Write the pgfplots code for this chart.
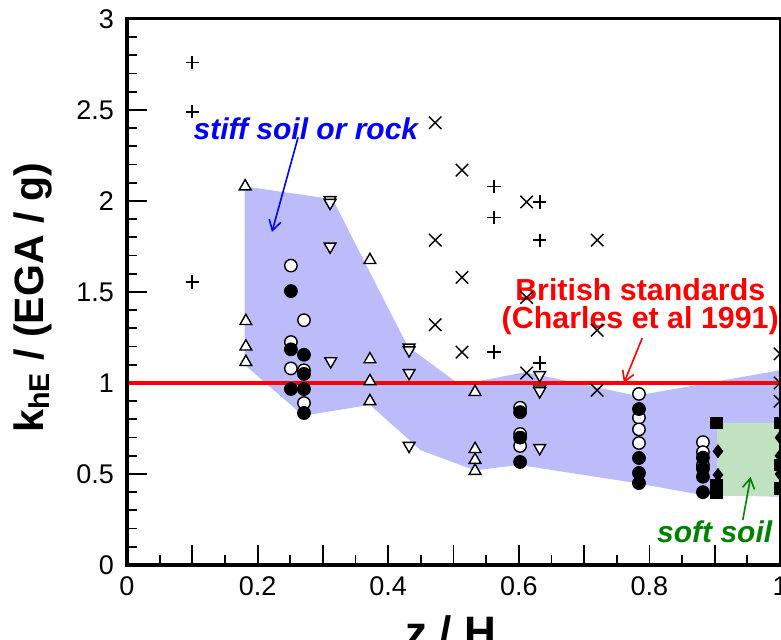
\documentclass[border=0pt]{standalone}
\usepackage{fontspec}
\setmainfont{Liberation Sans}
\usepackage{pgfplots}
\pgfplotsset{compat=1.18}
\usetikzlibrary{arrows.meta}
\definecolor{fillblue}{RGB}{188,188,250}
\definecolor{fillgreen}{RGB}{192,226,192}
\definecolor{txtgreen}{RGB}{0,128,0}
\begin{document}
\begin{tikzpicture}
\begin{axis}[name=ax, scale only axis, width=326.5pt, height=273pt,
  xmin=0, xmax=1, ymin=0, ymax=3,
  clip=false,
  axis line style={draw=none},
  xtick={0,0.1,0.2,0.3,0.4,0.5,0.6,0.7,0.8,0.9,1},
  xticklabels={0,,0.2,,0.4,,0.6,,0.8,,1},
  minor x tick num=1,
  ytick={0,0.5,1,1.5,2,2.5,3},
  yticklabels={0,0.5,1,1.5,2,2.5,3},
  minor y tick num=4,
  tick pos=left, tick align=inside,
  major tick length=10pt, minor tick length=5pt,
  tick style={black, line width=0.9pt},
  ticklabel style={font=\fontsize{13.5}{16}\selectfont},
  yticklabel style={xshift=-3pt},
  xticklabel style={yshift=-2.5pt},
  xlabel={z / H},
  ylabel={k\textsubscript{hE} / (EGA / g)},
  xlabel style={at={(axis description cs:0.496,-0.0916)}, anchor=north, inner sep=0pt, font=\fontsize{22}{26}\selectfont\bfseries},
  ylabel style={at={(axis description cs:-0.144,0.49)}, anchor=center, inner sep=0pt, font=\fontsize{20.5}{24}\selectfont\bfseries},
]
% stiff soil / rock band
\addplot[fill=fillblue, draw=none] coordinates {
 (0.18,2.08) (0.315,2.01) (0.43,1.20) (0.51,0.99) (0.61,1.06) (0.78,0.93) (1.0,1.07)
 (1.0,0.375) (0.88,0.385) (0.78,0.45) (0.60,0.55) (0.533,0.52) (0.45,0.63) (0.372,0.88) (0.27,0.82) (0.18,1.10)} -- cycle;
% soft soil band
\addplot[fill=fillgreen, draw=none] coordinates {(0.904,0.38) (1.0,0.38) (1.0,0.78) (0.904,0.78)} -- cycle;
% British standards
\addplot[red, line width=1.6pt] coordinates {(0,1) (1,1)};
% plus
\addplot[only marks, mark=+, mark size=3.3pt, line width=0.8pt, black] coordinates {
 (0.1,2.76) (0.1,2.49) (0.1,1.555) (0.562,2.08) (0.562,1.91) (0.632,1.995) (0.632,1.785) (0.562,1.17) (0.632,1.11)};
% cross
\addplot[only marks, mark=x, mark size=4.4pt, line width=0.7pt, black] coordinates {
 (0.472,2.43) (0.513,2.17) (0.612,1.995) (0.472,1.785) (0.513,1.58) (0.612,1.47) (0.472,1.32) (0.513,1.17) (0.612,1.055)
 (0.72,1.785) (0.72,1.29) (0.72,0.96) (1,1.16) (1,1.0) (1,0.9)};
% triangles up
\addplot[only marks, mark=triangle*, mark size=3.4pt, line width=0.7pt, black, mark options={fill=white}] coordinates {
 (0.181,2.08) (0.182,1.34) (0.182,1.20) (0.182,1.115) (0.372,1.675) (0.372,1.13) (0.372,1.01) (0.372,0.90)
 (0.533,0.95) (0.533,0.637) (0.533,0.577) (0.533,0.517)};
% triangles down
\addplot[only marks, mark=triangle*, mark size=3.4pt, line width=0.7pt, black, mark options={fill=white, rotate=180}] coordinates {
 (0.311,2.005) (0.311,1.99) (0.311,1.75) (0.312,1.12) (0.432,1.195) (0.432,1.18) (0.432,1.055) (0.432,0.655)
 (0.632,1.044) (0.632,0.965) (0.632,0.955) (0.632,0.643)};
% open circles
\addplot[only marks, mark=*, mark size=3.1pt, line width=0.7pt, black, mark options={fill=white}] coordinates {
 (0.251,1.645) (0.271,1.345) (0.251,1.225) (0.251,1.08) (0.271,1.07) (0.271,0.89)
 (0.602,0.864) (0.602,0.72) (0.602,0.654)
 (0.784,0.94) (0.784,0.81) (0.784,0.745) (0.784,0.67)
 (0.882,0.675) (0.882,0.62) (0.882,0.55)};
% filled circles
\addplot[only marks, mark=*, mark size=3.2pt, line width=0.5pt, black] coordinates {
 (0.251,1.505) (0.251,1.185) (0.271,1.155) (0.271,1.05) (0.251,0.967) (0.271,0.967) (0.271,0.835)
 (0.602,0.84) (0.602,0.70) (0.602,0.566)
 (0.784,0.857) (0.784,0.588) (0.784,0.506) (0.784,0.45)
 (0.882,0.59) (0.882,0.53) (0.882,0.485) (0.882,0.40)};
% diamonds
\addplot[only marks, mark=diamond*, mark size=3.2pt, black] coordinates {
 (0.905,0.625) (0.905,0.495) (1,0.7) (1,0.6) (1,0.5)};
% squares
\addplot[only marks, mark=square*, mark size=2.9pt, black] coordinates {
 (0.903,0.78) (0.903,0.44) (0.903,0.40) (1,0.78) (1,0.55) (1,0.42)};
% annotations
\node[text=blue, font=\fontsize{15}{18}\selectfont\bfseries\itshape] at (axis cs:0.274,2.395) {stiff soil or rock};
\draw[blue, line width=0.8pt, -{Straight Barb[length=5pt,width=6pt]}] (axis cs:0.262,2.35) -- (axis cs:0.222,1.83);
\node[text=red, align=center, font=\fontsize{15.2}{14}\selectfont\bfseries] at (axis cs:0.786,1.42) {British standards\\(Charles et al 1991)};
\draw[red, line width=0.8pt, -{Straight Barb[length=5pt,width=6pt]}] (axis cs:0.789,1.247) -- (axis cs:0.761,1.0);
\node[text=txtgreen, font=\fontsize{15}{18}\selectfont\bfseries\itshape] at (axis cs:0.90,0.18) {soft soil};
\draw[txtgreen, line width=0.8pt, -{Straight Barb[length=5pt,width=6pt]}] (axis cs:0.943,0.247) -- (axis cs:0.955,0.484);
\end{axis}
\draw[line width=2pt, line cap=rect] (ax.north west) -- (ax.south west) -- (ax.south east);
\draw[line width=1.5pt, line cap=rect] (ax.north west) -- (ax.north east);
\draw[line width=0.8pt] (ax.north east) -- (ax.south east);
\pgfresetboundingbox
\path[use as bounding box] ([shift={(-63.5pt,-37.5pt)}]ax.south west) rectangle ([shift={(0.5pt,9.5pt)}]ax.north east);
\end{tikzpicture}
\end{document}
